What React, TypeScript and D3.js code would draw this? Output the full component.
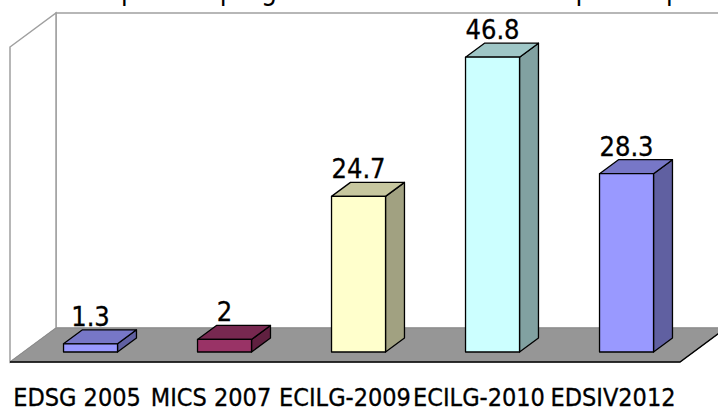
import React from "react";
import * as d3 from "d3";

const titleText = "Pratiques de progression des indicateurs par enquête";
const categories = ["EDSG 2005", "MICS 2007", "ECILG-2009", "ECILG-2010", "EDSIV2012"];
const values = [1.3, 2, 24.7, 46.8, 28.3];
const frontColors = ["#9999FF", "#993366", "#FFFFCC", "#CCFFFF", "#9999FF"];
const valueDomain = [0, 50];

const W = 718;
const H = 408;
const FONT = "'DejaVu Sans Condensed', 'DejaVu Sans', sans-serif";

export default function App() {
  const x0 = 10;
  const y0 = 362;
  const plotW = 670;
  const plotH = 315;
  const depthX = 46;
  const depthY = -34;
  const t1 = 10 / 34;
  const t2 = 24 / 34;

  const xBand = d3
    .scaleBand<string>()
    .domain(categories)
    .range([0, plotW])
    .paddingInner(0.597)
    .paddingOuter(0.2985);
  const yScale = d3.scaleLinear().domain(valueDomain).range([0, plotH]);

  const fx = (x: number, t: number) => x0 + x + depthX * t;
  const fy = (h: number, t: number) => y0 - h + depthY * t;
  const pts = (arr: [number, number][]) => arr.map((p) => p.join(",")).join(" ");

  const backL = fx(0, 1);
  const backR = fx(plotW, 1);
  const backBottom = fy(0, 1);
  const backTop = fy(plotH, 1);

  const shade = (c: string, k: number) => {
    const col = d3.rgb(c);
    return d3.rgb(col.r * k, col.g * k, col.b * k).formatHex();
  };

  return (
    <div style={{ position: "absolute", left: 0, top: 0 }}>
      <svg width={W} height={H} style={{ display: "block", background: "#fff" }}>
        <text
          x={392}
          y={0}
          textAnchor="middle"
          fontFamily={FONT}
          fontSize={28}
          fill="#000"
        >
          {titleText}
        </text>
        <rect
          x={backL}
          y={backTop}
          width={backR - backL}
          height={backBottom - backTop}
          fill="#fff"
          stroke="#a0a0a0"
          strokeWidth={1.5}
        />
        <polygon
          points={pts([
            [fx(0, 0), fy(plotH, 0)],
            [fx(0, 1), fy(plotH, 1)],
            [fx(0, 1), fy(0, 1)],
            [fx(0, 0), fy(0, 0)],
          ])}
          fill="#fff"
          stroke="#a0a0a0"
          strokeWidth={1.5}
        />
        <polygon
          points={pts([
            [fx(0, 0), fy(0, 0)],
            [fx(plotW, 0), fy(0, 0)],
            [fx(plotW, 1), fy(0, 1)],
            [fx(0, 1), fy(0, 1)],
          ])}
          fill="#969696"
          stroke="#8a8a8a"
          strokeWidth={1}
        />
        <polyline
          points={pts([
            [fx(0, 0), fy(0, 0)],
            [fx(plotW, 0), fy(0, 0)],
            [fx(plotW, 1), fy(0, 1)],
          ])}
          fill="none"
          stroke="#000"
          strokeWidth={1.5}
        />
        {categories.map((c, i) => {
          const bx = xBand(c) as number;
          const bw = xBand.bandwidth();
          const h = yScale(values[i]);
          const fl = fx(bx, t1);
          const fr = fx(bx + bw, t1);
          const ft = fy(h, t1);
          const fb = fy(0, t1);
          const bl = fx(bx, t2);
          const br = fx(bx + bw, t2);
          const bt = fy(h, t2);
          const bb = fy(0, t2);
          const col = frontColors[i];
          return (
            <g key={c} stroke="#000" strokeWidth={1.3} strokeLinejoin="round">
              <polygon
                points={pts([
                  [fr, fb],
                  [br, bb],
                  [br, bt],
                  [fr, ft],
                ])}
                fill={shade(col, 0.63)}
              />
              <polygon
                points={pts([
                  [fl, ft],
                  [fr, ft],
                  [br, bt],
                  [bl, bt],
                ])}
                fill={shade(col, 0.78)}
              />
              <rect x={fl} y={ft} width={fr - fl} height={fb - ft} fill={col} />
            </g>
          );
        })}
        {categories.map((c, i) => {
          const bx = xBand(c) as number;
          const bw = xBand.bandwidth();
          const h = yScale(values[i]);
          return (
            <text
              key={"v" + c}
              x={fx(bx + bw / 2, t1)}
              y={fy(h, t2) - 4}
              textAnchor="middle"
              fontFamily={FONT}
              fontSize={27}
              fill="#000"
              stroke="#000"
              strokeWidth={0.3}
            >
              {String(values[i])}
            </text>
          );
        })}
        {categories.map((c) => {
          const bx = xBand(c) as number;
          const bw = xBand.bandwidth();
          return (
            <text
              key={"c" + c}
              x={x0 + bx + bw / 2}
              y={406}
              textAnchor="middle"
              fontFamily={FONT}
              fontSize={25}
              fill="#000"
              stroke="#000"
              strokeWidth={0.3}
            >
              {c}
            </text>
          );
        })}
      </svg>
    </div>
  );
}
